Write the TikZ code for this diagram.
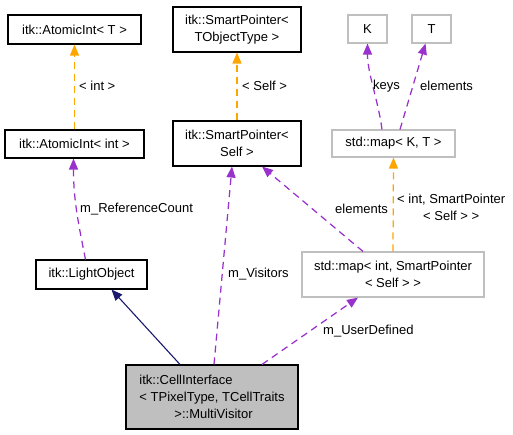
\documentclass[tikz,border=0pt]{standalone}
\usepackage{fontspec}
\setmainfont{Liberation Sans}
\usepackage{tikz}
\usetikzlibrary{arrows.meta}
\definecolor{edgeorange}{RGB}{255,165,0}
\definecolor{edgepurple}{RGB}{153,50,204}
\definecolor{edgenavy}{RGB}{25,25,112}
\definecolor{boxgray}{RGB}{191,191,191}
\tikzset{
 cls/.style={draw=black, line width=1.1pt, fill=white, inner sep=0, align=center, font=\fontsize{13}{17}\selectfont},
 ext/.style={cls, draw=boxgray},
 cur/.style={cls, fill=boxgray},
 lbl/.style={inner sep=0, anchor=west, align=center, font=\fontsize{13}{17}\selectfont},
 tmpl/.style={edgeorange, line width=1.25pt, dashed, dash pattern=on 7pt off 5pt, -{Stealth[length=11pt,width=9pt,inset=0pt]}},
 use/.style={tmpl, draw=edgepurple, -{Stealth[length=11pt,width=9pt,inset=0pt,fill=edgepurple]}},
 inh/.style={edgenavy, line width=1.1pt, -{Stealth[length=11pt,width=9pt,inset=0pt]}}
}

\begin{document}
\begin{tikzpicture}[x=1pt,y=-1pt]
\useasboundingbox (0,0) rectangle (513,435);
\node[cls, minimum width=133pt, minimum height=29pt] (aintT) at (74.5,29.5) {itk::AtomicInt< T >};
\node[cls, minimum width=139pt, minimum height=28pt] (aint) at (74.5,144) {itk::AtomicInt< int >};
\node[cls, minimum width=128pt, minimum height=45pt] (spT) at (237,29.5) {itk::SmartPointer<\\TObjectType >};
\node[cls, minimum width=128pt, minimum height=45pt] (spSelf) at (237,143.5) {itk::SmartPointer<\\Self >};
\node[ext, minimum width=39pt, minimum height=28pt] (K) at (367.5,29) {K};
\node[ext, minimum width=39pt, minimum height=28pt] (T) at (431.5,29) {T};
\node[ext, minimum width=123pt, minimum height=27pt] (mapKT) at (393.5,143.5) {std::map< K, T >};
\node[cls, minimum width=111pt, minimum height=29pt] (light) at (91.5,274.5) {itk::LightObject};
\node[ext, minimum width=182pt, minimum height=45pt] (mapInt) at (393,274.5) {std::map< int, SmartPointer\\< Self > >};
\node[cur, minimum width=172pt, minimum height=64pt, align=left] (cell) at (212,397) {itk::CellInterface\\< TPixelType, TCellTraits\\\hspace*{35pt}>::MultiVisitor};

\draw[tmpl] (aint.north) -- (aintT.south);
\draw[tmpl] (spSelf.north) -- (spT.south);
\draw[use] ([xshift=-11.5pt]mapKT.north) .. controls +(-4,-30) and +(0,30) .. (K.south);
\draw[use] ([xshift=6.5pt]mapKT.north) -- ([xshift=-6pt]T.south);
\draw[tmpl] (mapInt.north) -- (mapKT.south);
\draw[use] ([xshift=-30pt]mapInt.north) -- ([xshift=25pt]spSelf.south);
\draw[use] ([xshift=-6pt]light.north) .. controls +(-8,-40) and +(0,40) .. ([xshift=-1pt]aint.south);
\draw[use] ([xshift=2pt]cell.north) -- ([xshift=-5pt]spSelf.south);
\draw[inh] ([xshift=-32pt]cell.north) -- ([xshift=20pt]light.south);
\draw[use] ([xshift=50pt]cell.north) -- ([xshift=-35pt]mapInt.south);

\node[lbl] (l1) at (79,86) {< int >};
\node[lbl] (l2) at (242,86) {< Self >};
\node[lbl] (l3) at (373,86) {keys};
\node[lbl] (l4) at (420,86) {elements};
\node[lbl] (l5) at (397,207) {< int, SmartPointer\\< Self > >};
\node[lbl] (l6) at (335,209) {elements};
\node[lbl] (l7) at (80,209) {m\_ReferenceCount};
\node[lbl] (l8) at (228,274) {m\_Visitors};
\node[lbl] (l9) at (323,331) {m\_UserDefined};
\end{tikzpicture}
\end{document}
